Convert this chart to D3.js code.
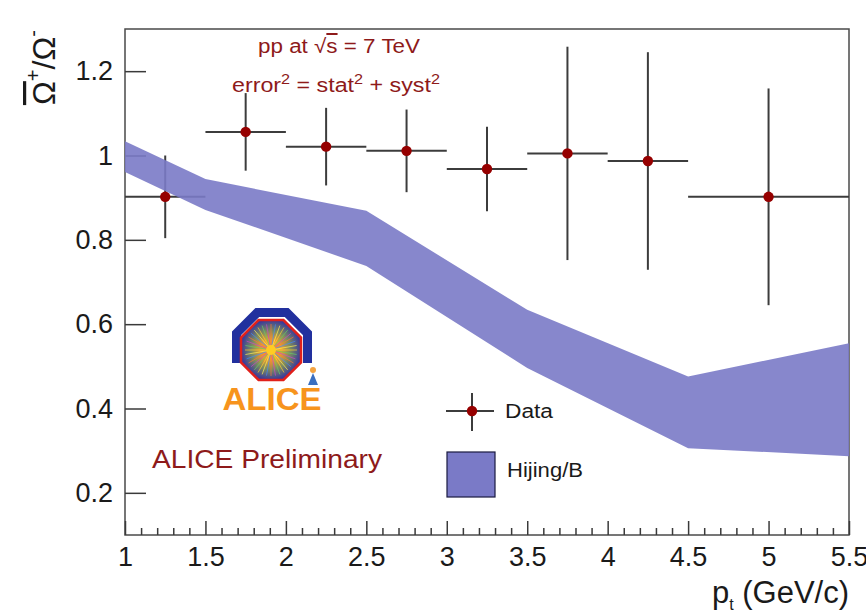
<!DOCTYPE html>
<html><head><meta charset="utf-8">
<script src="https://cdn.jsdelivr.net/npm/d3@7"></script>
<style>
body{margin:0;background:#fff}
svg{display:block}
text{font-family:"Liberation Sans",Arial,Helvetica,sans-serif}
</style>
</head><body>
<svg id="c" width="866" height="612"></svg>
<script>
// ---- data ----
const ptCenter = [1.25, 1.75, 2.25, 2.75, 3.25, 3.75, 4.25, 5.0];
const ptLow    = [1.0, 1.5, 2.0, 2.5, 3.0, 3.5, 4.0, 4.5];
const ptHigh   = [1.5, 2.0, 2.5, 3.0, 3.5, 4.0, 4.5, 5.5];
const ratio    = [0.902, 1.056, 1.021, 1.011, 0.968, 1.005, 0.987, 0.902];
const ratioErr = [0.098, 0.092, 0.092, 0.098, 0.100, 0.253, 0.258, 0.257];

const hijingPt    = [1.0, 1.5, 2.5, 3.5, 4.5, 5.5];
const hijingUpper = [1.034, 0.944, 0.869, 0.634, 0.476, 0.555];
const hijingLower = [0.961, 0.871, 0.738, 0.496, 0.306, 0.287];

const xMajorTicks = [1, 1.5, 2, 2.5, 3, 3.5, 4, 4.5, 5, 5.5];
const xTickLabels = ["1", "1.5", "2", "2.5", "3", "3.5", "4", "4.5", "5", "5.5"];
const yMajorTicks = [0.2, 0.4, 0.6, 0.8, 1.0, 1.2];
const yTickLabels = ["0.2", "0.4", "0.6", "0.8", "1", "1.2"];

// ---- layout ----
const L = 125, R = 849, T = 29, B = 535;
const svg = d3.select("#c");
const x = d3.scaleLinear().domain([1, 5.5]).range([L, R]);
const y = d3.scaleLinear().domain([0.1, 1.3]).range([B, T]);

const axisCol = "#3a3a3a";
const darkRed = "#8e1a1a";
const bandCol = "#7a7ac7";

// frame
svg.append("rect").attr("x", L).attr("y", T).attr("width", R - L).attr("height", B - T)
  .attr("fill", "none").attr("stroke", "#4a4a4a").attr("stroke-width", 1.5);

// x minor ticks
const xMinor = d3.range(10, 56).map(v => v / 10).filter(v => !xMajorTicks.some(m => Math.abs(m - v) < 1e-6));
const gxm = svg.append("g").attr("transform", `translate(0,${B})`)
  .call(d3.axisBottom(x).tickValues(xMinor).tickSize(-7).tickSizeOuter(0).tickFormat(""));
gxm.select(".domain").remove();
gxm.selectAll("line").attr("stroke", axisCol).attr("stroke-width", 1.5);

// x major
const gx = svg.append("g").attr("transform", `translate(0,${B})`)
  .call(d3.axisBottom(x).tickValues(xMajorTicks).tickSize(-14).tickSizeOuter(0).tickPadding(12)
    .tickFormat((d, i) => xTickLabels[i]));
gx.select(".domain").remove();
gx.selectAll("line").attr("stroke", axisCol).attr("stroke-width", 1.5);
gx.selectAll("text").attr("font-size", 27).attr("fill", "#1a1a1a")
  .attr("font-family", '"Liberation Sans",Arial,sans-serif');

// y major
const gy = svg.append("g").attr("transform", `translate(${L},0)`)
  .call(d3.axisLeft(y).tickValues(yMajorTicks).tickSize(-21).tickSizeOuter(0).tickPadding(12)
    .tickFormat((d, i) => yTickLabels[i]));
gy.select(".domain").remove();
gy.selectAll("line").attr("stroke", axisCol).attr("stroke-width", 1.5);
gy.selectAll("text").attr("font-size", 27).attr("fill", "#1a1a1a")
  .attr("font-family", '"Liberation Sans",Arial,sans-serif');

// data error bars
const pts = ptCenter.map((c, i) => ({c, lo: ptLow[i], hi: ptHigh[i], v: ratio[i], e: ratioErr[i]}));
const gErr = svg.append("g").attr("stroke", "#3c3c3c").attr("stroke-width", 2);
gErr.selectAll("line.h").data(pts).join("line").attr("class", "h")
  .attr("x1", d => x(d.lo)).attr("x2", d => x(d.hi)).attr("y1", d => y(d.v)).attr("y2", d => y(d.v));
gErr.selectAll("line.v").data(pts).join("line").attr("class", "v")
  .attr("x1", d => x(d.c)).attr("x2", d => x(d.c)).attr("y1", d => y(d.v - d.e)).attr("y2", d => y(d.v + d.e));

// hijing band
const band = hijingPt.map((p, i) => ({p, hi: hijingUpper[i], lo: hijingLower[i]}));
const defs = svg.append("defs");
defs.append("clipPath").attr("id", "clip").append("rect")
  .attr("x", L).attr("y", T).attr("width", R - L).attr("height", B - T);
svg.append("path").datum(band).attr("clip-path", "url(#clip)")
  .attr("d", d3.area().x(d => x(d.p)).y0(d => y(d.lo)).y1(d => y(d.hi)))
  .attr("fill", bandCol).attr("fill-opacity", 0.9);

// markers
svg.append("g").selectAll("circle").data(pts).join("circle")
  .attr("cx", d => x(d.c)).attr("cy", d => y(d.v)).attr("r", 5.2).attr("fill", "#960000");

// annotations
const t1 = svg.append("text").attr("x", 258).attr("y", 53)
  .attr("font-size", 20).attr("fill", darkRed)
  .attr("textLength", 162).attr("lengthAdjust", "spacingAndGlyphs");
t1.append("tspan").text("pp at ");
t1.append("tspan").text("\u221A");
t1.append("tspan").attr("text-decoration", "overline").text("s");
t1.append("tspan").text(" = 7 TeV");

const t2 = svg.append("text").attr("x", 232).attr("y", 92)
  .attr("font-size", 20).attr("fill", darkRed)
  .attr("textLength", 208).attr("lengthAdjust", "spacingAndGlyphs");
t2.append("tspan").text("error");
t2.append("tspan").attr("dy", -8).attr("font-size", 14).text("2");
t2.append("tspan").attr("dy", 8).text(" = stat");
t2.append("tspan").attr("dy", -8).attr("font-size", 14).text("2");
t2.append("tspan").attr("dy", 8).text(" + syst");
t2.append("tspan").attr("dy", -8).attr("font-size", 14).text("2");

svg.append("text").attr("x", 152).attr("y", 468).attr("font-size", 26).attr("fill", darkRed)
  .attr("textLength", 230).attr("lengthAdjust", "spacingAndGlyphs")
  .text("ALICE Preliminary");

// legend
const lg = svg.append("g");
lg.append("line").attr("x1", 446).attr("x2", 494).attr("y1", 411).attr("y2", 411).attr("stroke", "#3c3c3c").attr("stroke-width", 2);
lg.append("line").attr("x1", 472).attr("x2", 472).attr("y1", 393).attr("y2", 431).attr("stroke", "#3c3c3c").attr("stroke-width", 2);
lg.append("circle").attr("cx", 472).attr("cy", 411).attr("r", 5.2).attr("fill", "#960000");
lg.append("text").attr("x", 505).attr("y", 418).attr("font-size", 19.5).attr("fill", "#1a1a1a")
  .attr("textLength", 48).attr("lengthAdjust", "spacingAndGlyphs").text("Data");
lg.append("rect").attr("x", 447).attr("y", 452).attr("width", 48).attr("height", 45)
  .attr("fill", bandCol).attr("stroke", "#1a1a40").attr("stroke-width", 1.2);
lg.append("text").attr("x", 507).attr("y", 477).attr("font-size", 19.5).attr("fill", "#1a1a1a")
  .attr("textLength", 76).attr("lengthAdjust", "spacingAndGlyphs").text("Hijing/B");

// x axis title
const xt = svg.append("text").attr("x", 849).attr("y", 603).attr("text-anchor", "end")
  .attr("font-size", 31).attr("fill", "#1a1a1a");
xt.append("tspan").text("p");
xt.append("tspan").attr("dy", 7).attr("font-size", 16).text("t");
xt.append("tspan").attr("dy", -7).text(" (GeV/c)");

// y axis title
const yt = svg.append("text").attr("transform", "translate(55,30) rotate(-90)")
  .attr("text-anchor", "end").attr("font-size", 32).attr("fill", "#1a1a1a");
yt.append("tspan").attr("text-decoration", "overline").text("\u03A9");
yt.append("tspan").attr("dy", -15).attr("font-size", 20).text("+");
yt.append("tspan").attr("dy", 15).text("/\u03A9");
yt.append("tspan").attr("dy", -15).attr("font-size", 20).text("-");

// ALICE logo
const logo = svg.append("g");
const rg = defs.append("radialGradient").attr("id", "burst");
rg.append("stop").attr("offset", "0%").attr("stop-color", "#ffb020");
rg.append("stop").attr("offset", "35%").attr("stop-color", "#e8a030");
rg.append("stop").attr("offset", "65%").attr("stop-color", "#7a8a60");
rg.append("stop").attr("offset", "100%").attr("stop-color", "#3a3a9a");
function octagon(cx, cy, a) {
  const b = a * Math.tan(Math.PI / 8);
  return [[cx - b, cy - a], [cx + b, cy - a], [cx + a, cy - b], [cx + a, cy + b],
          [cx + b, cy + a], [cx - b, cy + a], [cx - a, cy + b], [cx - a, cy - b]];
}
const ob = octagon(272, 348, 35.5);
logo.append("path")
  .attr("d", `M${ob[6][0]},363 L${ob[7][0]},${ob[7][1]} L${ob[0][0]},${ob[0][1]} L${ob[1][0]},${ob[1][1]} L${ob[2][0]},${ob[2][1]} L${ob[3][0]},363`)
  .attr("fill", "none").attr("stroke", "#22309e").attr("stroke-width", 9).attr("stroke-linejoin", "miter");
const ro = octagon(271, 350, 30);
logo.append("polygon").attr("points", ro.map(p => p.join(",")).join(" "))
  .attr("fill", "url(#burst)").attr("stroke", "#e0201b").attr("stroke-width", 2.5);
const rayCols = ["#ffcc33", "#66cc66", "#cc44cc", "#ff7733", "#4488ff", "#ffee55"];
for (let k = 0; k < 36; k++) {
  const ang = k * Math.PI * 2 / 36;
  logo.append("line").attr("x1", 271).attr("y1", 350)
    .attr("x2", 271 + 26 * Math.cos(ang)).attr("y2", 350 + 26 * Math.sin(ang))
    .attr("stroke", rayCols[k % rayCols.length]).attr("stroke-width", 1).attr("opacity", 0.7);
}
logo.append("circle").attr("cx", 271).attr("cy", 350).attr("r", 5).attr("fill", "#ffcc22");
logo.append("circle").attr("cx", 313).attr("cy", 370).attr("r", 3).attr("fill", "#f4a340");
logo.append("path").attr("d", "M313,373 L308,385 L318,385 Z").attr("fill", "#3a6fc0");
logo.append("text").attr("x", 272).attr("y", 410).attr("text-anchor", "middle")
  .attr("font-size", 32).attr("font-weight", "bold").attr("fill", "#f7941d")
  .attr("textLength", 99).attr("lengthAdjust", "spacingAndGlyphs").text("ALICE");
</script>
</body></html>
